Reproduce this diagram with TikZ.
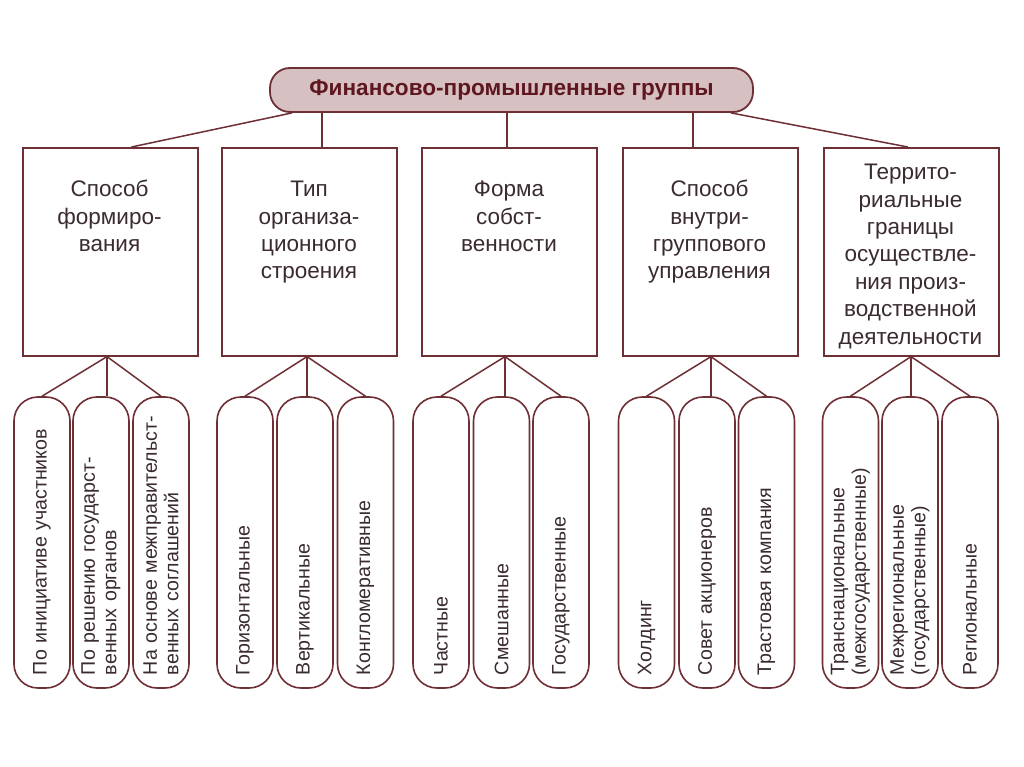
\documentclass[tikz,border=0pt]{standalone}
\usepackage{fontspec}
\setmainfont{Liberation Sans}
\usetikzlibrary{calc}
\definecolor{ln}{HTML}{6E2F35}
\definecolor{tx}{HTML}{3A2B2E}
\definecolor{tf}{HTML}{D6C0C1}
\definecolor{tt}{HTML}{5E1620}
\begin{document}
\begin{tikzpicture}[x=1pt,y=-1pt,
  titlebox/.style={draw=ln, line width=1.8pt, fill=tf, rounded corners=20pt,
    minimum width=483pt, minimum height=44pt, inner sep=0pt, text=tt,
    font=\fontsize{22.6}{27}\selectfont\bfseries},
  catbox/.style={draw=ln, line width=1.6pt, minimum width=175pt, minimum height=208pt,
    inner sep=0pt, anchor=north west},
  cattext/.style={text=tx, font=\fontsize{22.5}{27.4}\selectfont, align=center,
    anchor=north, inner sep=0pt},
  pill/.style={draw=ln, line width=1.6pt, rounded corners=24pt, rotate=90,
    minimum width=291pt, minimum height=56pt, text width=265pt, align=left,
    inner xsep=13pt, inner ysep=0pt, text=tx,
    font=\fontsize{19.6}{21.5}\selectfont},
  conn/.style={draw=ln, line width=1.5pt},
]
\useasboundingbox[fill=white] (0,0) rectangle (1024,767);

% title
\node[titlebox] (t) at (511.5,90) {Финансово-промышленные группы};

% category boxes
\node[catbox] (b1) at (22,147) {};
\node[catbox] (b2) at (221,147) {};
\node[catbox] (b3) at (421,147) {};
\node[catbox] (b4) at (622,147) {};
\node[catbox] (b5) at (823,147) {};

\node[cattext] (c1) at (109.5,180) {\rule{0pt}{16.5pt}Способ\\формиро-\\вания};
\node[cattext] (c2) at (309,180) {\rule{0pt}{16.5pt}Тип\\организа-\\ционного\\строения};
\node[cattext] (c3) at (509,180) {\rule{0pt}{16.5pt}Форма\\собст-\\венности};
\node[cattext] (c4) at (709.5,180) {\rule{0pt}{16.5pt}Способ\\внутри-\\группового\\управления};
\node[cattext] (c5) at (910.5,163) {\rule{0pt}{16.5pt}Террито-\\риальные\\границы\\осуществле-\\ния произ-\\водственной\\деятельности};

% pills
\node[pill] (p11) at (42,542.5) {\mbox{По инициативе участников}};
\node[pill] (p12) at (101,542.5) {\mbox{По решению государст-}\\\mbox{венных органов}};
\node[pill] (p13) at (161,542.5) {\mbox{На основе межправительст-}\\\mbox{венных соглашений}};

\node[pill] (p21) at (245,542.5) {Горизонтальные};
\node[pill] (p22) at (305,542.5) {Вертикальные};
\node[pill] (p23) at (365.5,542.5) {Конгломеративные};

\node[pill] (p31) at (441,542.5) {Частные};
\node[pill] (p32) at (501.5,542.5) {Смешанные};
\node[pill] (p33) at (561,542.5) {Государственные};

\node[pill] (p41) at (646.5,542.5) {Холдинг};
\node[pill] (p42) at (707,542.5) {Совет акционеров};
\node[pill] (p43) at (766.5,542.5) {Трастовая компания};

\node[pill] (p51) at (850.5,542.5) {\mbox{Транснациональные}\\\mbox{(межгосударственные)}};
\node[pill] (p52) at (910,542.5) {\mbox{Межрегиональные}\\\mbox{(государственные)}};
\node[pill] (p53) at (970,542.5) {Региональные};

% top connectors
\coordinate (v2) at (322,0);
\coordinate (v3) at (507,0);
\coordinate (v4) at (693,0);
\draw[conn] ($(t.south west)+(23,0)$) -- ($(b1.north west)!0.62!(b1.north east)$);
\draw[conn] (t.south -| v2) -- (b2.north -| v2);
\draw[conn] (t.south -| v3) -- (b3.north -| v3);
\draw[conn] (t.south -| v4) -- (b4.north -| v4);
\draw[conn] ($(t.south east)+(-23,0)$) -- ($(b5.north west)!0.48!(b5.north east)$);

% bottom connectors
\coordinate (o1) at (107,0);
\coordinate (o2) at (307,0);
\coordinate (o3) at (505,0);
\coordinate (o4) at (711,0);
\coordinate (o5) at (911,0);
\foreach \i in {1,...,5}{
  \draw[conn] (b\i.south -| o\i) -- (p\i1.east);
  \draw[conn] (b\i.south -| o\i) -- (p\i2.east -| o\i);
  \draw[conn] (b\i.south -| o\i) -- (p\i3.east);
}
\end{tikzpicture}
\end{document}
